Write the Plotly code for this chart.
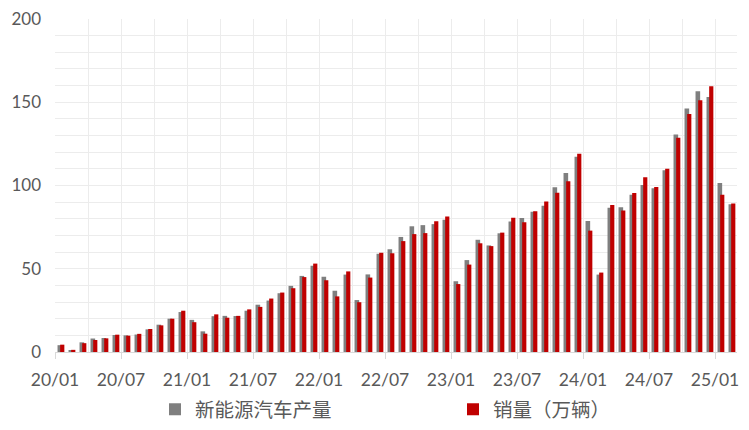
import plotly.graph_objects as go

months = [f"{y:02d}/{m:02d}" for y in range(20, 26) for m in range(1, 13)][:62]

production = [
    4.1, 1.0, 5.8, 8.1, 8.4, 10.2, 10.0, 10.5, 13.6, 16.4, 20.0, 24.0,
    19.3, 12.4, 21.5, 21.7, 21.6, 24.8, 28.4, 30.9, 35.3, 39.7, 45.7, 51.8,
    45.2, 36.8, 46.5, 31.2, 46.6, 59.0, 61.7, 69.1, 75.5, 76.2, 76.8, 79.4,
    42.5, 55.2, 67.4, 64.0, 71.3, 78.4, 80.5, 84.3, 87.9, 99.0, 107.5, 117.2,
    78.7, 46.5, 86.7, 87.0, 94.5, 100.3, 98.4, 109.2, 130.7, 146.3, 156.6, 153.1,
    101.5, 88.8,
]
sales = [
    4.4, 1.3, 5.3, 7.2, 8.2, 10.4, 9.8, 10.9, 13.8, 16.0, 20.0, 24.8,
    17.9, 11.0, 22.6, 20.6, 21.7, 25.6, 27.1, 32.1, 35.7, 38.3, 45.0, 53.1,
    43.1, 33.4, 48.4, 29.9, 44.7, 59.6, 59.3, 66.6, 70.8, 71.4, 78.6, 81.4,
    40.8, 52.5, 65.3, 63.6, 71.7, 80.6, 78.0, 84.6, 90.4, 95.6, 102.6, 119.1,
    72.9, 47.7, 88.3, 85.0, 95.5, 104.9, 99.1, 110.0, 128.7, 143.0, 151.2, 159.6,
    94.4, 89.2,
]

x_idx = list(range(len(months)))
tick_pos = [i - 0.5 for i in range(0, len(months), 6)]
tick_text = [months[i] for i in range(0, len(months), 6)]

fig = go.Figure()
fig.add_trace(go.Bar(
    x=x_idx, y=production, name="新能源汽车产量",
    marker=dict(color="#7f7f7f", line=dict(width=0)),
    offset=-0.27, width=0.42,
    hovertext=months, legend="legend",
))
fig.add_trace(go.Bar(
    x=x_idx, y=sales, name="销量（万辆）",
    marker=dict(color="#c00000", line=dict(width=0)),
    offset=-0.03, width=0.38,
    hovertext=months, legend="legend2",
))

legend_font = dict(family="'Noto Sans CJK SC', sans-serif", size=19.5, color="#595959")
fig.update_layout(
    width=733, height=414,
    margin=dict(l=47, r=4, t=11, b=70, autoexpand=False),
    paper_bgcolor="white", plot_bgcolor="white",
    barmode="overlay",
    font=dict(family="Lato, 'Noto Sans CJK SC', sans-serif", color="#595959", size=18),
    showlegend=True,
    legend=dict(
        orientation="h", x=0.1466, xanchor="left",
        yref="container", y=0.03, yanchor="middle",
        font=legend_font, itemclick=False,
    ),
    legend2=dict(
        orientation="h", x=0.5836, xanchor="left",
        yref="container", y=0.03, yanchor="middle",
        font=legend_font, itemclick=False,
    ),
)

fig.update_xaxes(
    range=[-0.5, len(months) - 0.5],
    tickmode="array", tickvals=tick_pos, ticktext=tick_text,
    ticks="outside", ticklen=6, tickcolor="#d9d9d9", tickwidth=1,
    showline=True, linecolor="#d9d9d9", linewidth=1,
    showgrid=True, gridcolor="#ececec", gridwidth=1,
    minor=dict(tickmode="linear", tick0=-0.5, dtick=3, showgrid=True,
               gridcolor="#ececec", gridwidth=1, ticks=""),
    tickfont=dict(size=17.5, color="#595959"),
    ticklabelstandoff=6,
    ticklabeloverflow="allow",
    zeroline=False,
)
fig.update_yaxes(
    range=[0, 200],
    tickmode="array", tickvals=[0, 50, 100, 150, 200],
    showgrid=True, gridcolor="#ececec", gridwidth=1,
    minor=dict(tickmode="linear", tick0=0, dtick=10, showgrid=True,
               gridcolor="#ececec", gridwidth=1, ticks=""),
    showline=False, zeroline=False,
    tickfont=dict(size=17, color="#595959"),
    ticklabelstandoff=13,
    ticklabeloverflow="allow",
)

fig.write_html("out.html")
